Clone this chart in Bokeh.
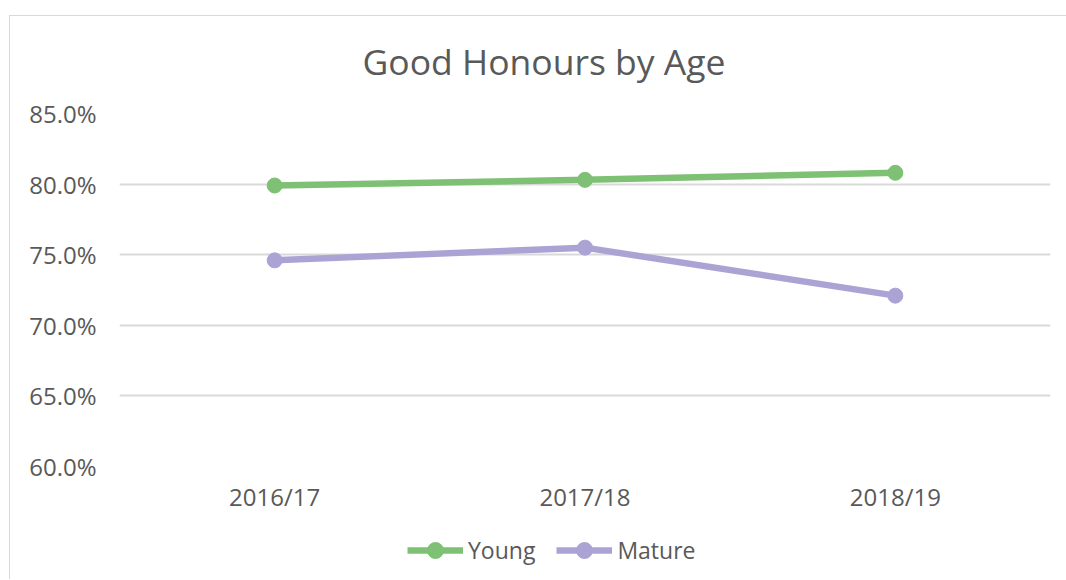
from bokeh.plotting import figure
from bokeh.models import FactorRange, Range1d, NumeralTickFormatter, FixedTicker, Legend, LegendItem, Label
from bokeh.layouts import column
from bokeh.embed import file_html
from bokeh.resources import INLINE

years = ["2016/17", "2017/18", "2018/19"]
young = [0.799, 0.803, 0.808]
mature = [0.746, 0.755, 0.721]
y_ticks = [0.60, 0.65, 0.70, 0.75, 0.80, 0.85]
series_names = ["Young", "Mature"]
title_text = "Good Honours by Age"

GREEN = "#7EC074"
PURPLE = "#ACA3D5"
TEXT = "#595959"
FONT = "Open Sans"
W = 1056

# --- title strip ---
p0 = figure(width=W, height=77, output_backend="svg", toolbar_location=None,
            x_axis_type=None, y_axis_type=None, min_border=0)
p0.outline_line_color = None
p0.grid.visible = False
p0.add_layout(Label(x=424.5, y=33, x_units="screen", y_units="screen", text=title_text,
                    text_align="center", text_baseline="alphabetic", text_font=FONT,
                    text_font_size="35.5px", text_color=TEXT))

# --- main chart ---
p = figure(width=W, height=423, x_range=FactorRange(*years), y_range=Range1d(0.60, 0.85),
           output_backend="svg", toolbar_location=None,
           min_border_left=109, min_border_right=16, min_border_top=20, min_border_bottom=50)
p.outline_line_color = None
p.xgrid.visible = False
p.ygrid.grid_line_color = "#d9d9d9"
p.ygrid.grid_line_width = 2

p.yaxis.ticker = FixedTicker(ticks=y_ticks)
p.yaxis.formatter = NumeralTickFormatter(format="0.0%")
for ax in (p.xaxis[0], p.yaxis[0]):
    ax.axis_line_color = None
    ax.major_tick_line_color = None
    ax.minor_tick_line_color = None
    ax.major_tick_out = 0
    ax.major_tick_in = 0
    ax.major_label_text_font = FONT
    ax.major_label_text_font_size = "24px"
    ax.major_label_text_color = TEXT
p.yaxis.major_label_standoff = 23
p.xaxis.major_label_standoff = 13

p.line(years, young, line_width=6.5, color=GREEN)
p.scatter(years, young, size=15, color=GREEN)
p.line(years, mature, line_width=6.5, color=PURPLE)
p.scatter(years, mature, size=15, color=PURPLE)

# --- legend strip (its ranges keep the proxy series out of view) ---
p2 = figure(width=W, height=63, output_backend="svg", toolbar_location=None,
            x_range=FactorRange(*years), y_range=Range1d(0, 0.1),
            x_axis_type=None, y_axis_type=None, min_border=0)
p2.outline_line_color = None
p2.grid.visible = False
items = []
for name, vals, col in zip(series_names, [young, mature], [GREEN, PURPLE]):
    lr = p2.line(years, vals, line_width=6.5, color=col)
    sr = p2.scatter(years, vals, size=15, color=col)
    items.append(LegendItem(label=name, renderers=[lr, sr]))
legend = Legend(items=items, orientation="horizontal", location=(288, 9),
                glyph_width=56, glyph_height=40, label_standoff=5, spacing=21,
                padding=0, margin=0, border_line_color=None, background_fill_alpha=0,
                label_text_font=FONT, label_text_font_size="23px", label_text_color=TEXT)
p2.add_layout(legend)

layout = column(p0, p, p2, spacing=0)
layout.styles = {"position": "relative", "top": "15px", "left": "9px",
                 "border-top": "1px solid #d9d9d9", "border-left": "1px solid #d9d9d9"}
open("out.html", "w").write(file_html(layout, INLINE))
